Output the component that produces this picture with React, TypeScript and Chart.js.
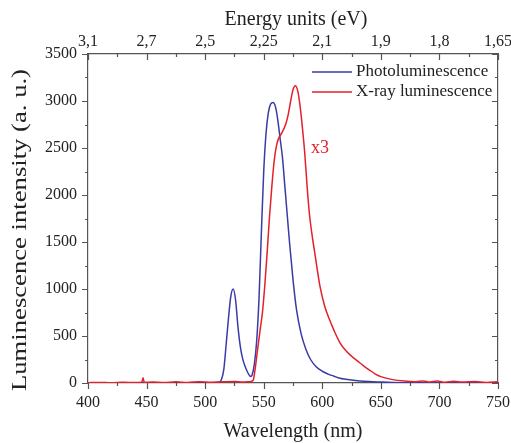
import React, { useEffect, useRef } from "react";
import { Chart, registerables } from "chart.js";

Chart.register(...registerables);

// Photoluminescence (blue) – wavelength (nm) and intensity
const plWavelength = [400, 450, 490, 505, 512, 514, 516, 518, 520, 522, 524, 526, 528, 530, 532, 534, 536, 538, 539, 540, 542, 544, 546, 548, 550, 552, 554, 556, 558, 560, 562, 564, 566, 568, 570, 572, 575, 578, 582, 586, 590, 595, 600, 605, 610, 615, 620, 630, 640, 650, 660, 680, 700, 750];
const plIntensity = [0, 0, 1, 3, 8, 40, 150, 420, 700, 930, 1000, 880, 600, 390, 260, 180, 120, 78, 70, 82, 200, 450, 900, 1600, 2250, 2660, 2880, 2970, 2985, 2940, 2800, 2600, 2400, 2100, 1800, 1500, 1100, 780, 520, 360, 250, 170, 125, 95, 72, 50, 40, 25, 15, 10, 6, 3, 1, 0];

// X-ray luminescence ×3 (red)
const xlWavelength = [400, 410, 420, 430, 440, 446, 447, 448, 455, 465, 475, 485, 495, 505, 515, 525, 532, 538, 541, 543, 545, 547, 549, 551, 553, 555, 557, 559, 561, 563, 565, 567, 569, 571, 573, 575, 577, 579, 581, 583, 585, 587, 589, 591, 594, 598, 602, 606, 610, 615, 620, 625, 630, 635, 640, 645, 650, 660, 670, 680, 686, 692, 698, 705, 712, 720, 730, 740, 750];
const xlIntensity = [3, 6, 2, 8, 4, 10, 55, 8, 10, 4, 12, 6, 14, 8, 12, 16, 10, 14, 30, 180, 380, 570, 760, 1050, 1400, 1780, 2100, 2370, 2530, 2610, 2650, 2700, 2760, 2860, 3000, 3120, 3163, 3110, 2950, 2720, 2450, 2100, 1800, 1600, 1350, 1030, 820, 680, 560, 430, 345, 285, 235, 185, 140, 98, 68, 36, 20, 14, 22, 10, 20, 8, 18, 10, 16, 6, 12];

// Axis ticks
const wavelengthTicks = [400, 450, 500, 550, 600, 650, 700, 750];
const energyTickLabels = ["3,1", "2,7", "2,5", "2,25", "2,1", "1,9", "1,8", "1,65"];
const intensityTicks = [0, 500, 1000, 1500, 2000, 2500, 3000, 3500];

const seriesNames = ["Photoluminescence", "X-ray luminescence"];
const seriesColors = ["#3b3ba6", "#e3202b"];

const FONT = "'Liberation Serif', 'DejaVu Serif', serif";
const TEXT = "#222";
const AXIS = "#555";

const decorPlugin = {
  id: "decor",
  afterDraw(chart: any) {
    const ctx = chart.ctx;
    const ca = chart.chartArea;
    const xs = chart.scales.x;
    const ys = chart.scales.y;
    ctx.save();
    ctx.strokeStyle = AXIS;
    ctx.lineWidth = 1.2;
    // x ticks (bottom outward, top inward)
    for (let v = 400; v <= 750; v += 25) {
      const px = Math.round(xs.getPixelForValue(v)) + 0.5;
      const len = v % 50 === 0 ? 6 : 3;
      ctx.beginPath();
      ctx.moveTo(px, ca.bottom);
      ctx.lineTo(px, ca.bottom + len);
      ctx.moveTo(px, ca.top);
      ctx.lineTo(px, ca.top + len);
      ctx.stroke();
    }
    // y ticks (left outward, right inward)
    for (let v = 0; v <= 3500; v += 250) {
      const py = Math.round(ys.getPixelForValue(v)) + 0.5;
      const len = v % 500 === 0 ? 6 : 3;
      ctx.beginPath();
      ctx.moveTo(ca.left - len, py);
      ctx.lineTo(ca.left, py);
      ctx.moveTo(ca.right - len, py);
      ctx.lineTo(ca.right, py);
      ctx.stroke();
    }
    // titles
    ctx.fillStyle = TEXT;
    ctx.textAlign = "center";
    ctx.textBaseline = "middle";
    ctx.font = `20px ${FONT}`;
    const cx = (ca.left + ca.right) / 2;
    ctx.fillText("Wavelength (nm)", cx, 432);
    ctx.fillText("Energy units (eV)", cx + 3, 20);
    // y title, stretched along its length
    const yTitle = "Luminescence intensity (a. u.)";
    const w = ctx.measureText(yTitle).width;
    ctx.save();
    ctx.translate(21, 230);
    ctx.rotate(-Math.PI / 2);
    ctx.scale(322 / w, 1);
    ctx.fillText(yTitle, 0, 0);
    ctx.restore();
    // legend
    ctx.font = `17px ${FONT}`;
    ctx.textAlign = "left";
    const rows = [72, 92];
    for (let i = 0; i < 2; i++) {
      ctx.strokeStyle = seriesColors[i];
      ctx.lineWidth = 1.5;
      ctx.beginPath();
      ctx.moveTo(312, rows[i]);
      ctx.lineTo(352, rows[i]);
      ctx.stroke();
      ctx.fillStyle = TEXT;
      ctx.fillText(seriesNames[i], 356, rows[i]);
    }
    // x3 annotation
    ctx.fillStyle = seriesColors[1];
    ctx.font = `18px ${FONT}`;
    ctx.textAlign = "center";
    ctx.fillText("x3", 320, 148);
    ctx.restore();
  },
};

const noPad = (h: number) => (s: any) => {
  s.height = h;
  s.paddingLeft = 0;
  s.paddingRight = 0;
};

export default function App() {
  const ref = useRef<HTMLCanvasElement | null>(null);
  useEffect(() => {
    if (!ref.current) return;
    const tickFont = { family: FONT, size: 16 };
    const chart = new Chart(ref.current, {
      type: "line",
      data: {
        datasets: [
          {
            label: seriesNames[0],
            data: plWavelength.map((x, i) => ({ x, y: plIntensity[i] })),
            borderColor: seriesColors[0],
            borderWidth: 1.5,
            pointRadius: 0,
            cubicInterpolationMode: "monotone",
            order: 1,
          },
          {
            label: seriesNames[1],
            data: xlWavelength.map((x, i) => ({ x, y: xlIntensity[i] })),
            borderColor: seriesColors[1],
            borderWidth: 1.5,
            pointRadius: 0,
            cubicInterpolationMode: "monotone",
            order: 0,
          },
        ],
      },
      options: {
        animation: false,
        responsive: true,
        maintainAspectRatio: false,
        layout: { padding: 0 },
        plugins: { legend: { display: false }, tooltip: { enabled: false } },
        scales: {
          x: {
            type: "linear",
            position: "bottom",
            min: 400,
            max: 750,
            afterBuildTicks: (s: any) => {
              s.ticks = wavelengthTicks.map((v) => ({ value: v }));
            },
            afterFit: noPad(60),
            ticks: { font: tickFont, color: TEXT, padding: 10, maxRotation: 0, autoSkip: false },
            grid: { display: true, drawOnChartArea: false, drawTicks: false },
            border: { display: true, color: AXIS, width: 1.2 },
          },
          x2: {
            type: "linear",
            position: "top",
            display: true,
            min: 400,
            max: 750,
            afterBuildTicks: (s: any) => {
              s.ticks = wavelengthTicks.map((v) => ({ value: v }));
            },
            afterFit: noPad(54),
            ticks: {
              font: tickFont,
              color: TEXT,
              padding: 3,
              maxRotation: 0,
              autoSkip: false,
              callback: (v: any) => {
                const i = wavelengthTicks.indexOf(Number(v));
                return i >= 0 ? energyTickLabels[i] : "";
              },
            },
            grid: { display: true, drawOnChartArea: false, drawTicks: false },
            border: { display: true, color: AXIS, width: 1.2 },
          },
          y: {
            type: "linear",
            position: "left",
            min: 0,
            max: 3500,
            afterBuildTicks: (s: any) => {
              s.ticks = intensityTicks.map((v) => ({ value: v }));
            },
            afterFit: (s: any) => {
              s.width = 88;
              s.paddingTop = 0;
              s.paddingBottom = 0;
            },
            ticks: { font: tickFont, color: TEXT, padding: 11, callback: (v: any) => String(v) },
            grid: { display: true, drawOnChartArea: false, drawTicks: false },
            border: { display: true, color: AXIS, width: 1.2 },
          },
          y2: {
            type: "linear",
            position: "right",
            display: true,
            min: 0,
            max: 3500,
            afterFit: (s: any) => {
              s.width = 13;
              s.paddingTop = 0;
              s.paddingBottom = 0;
            },
            ticks: { display: false },
            grid: { display: true, drawOnChartArea: false, drawTicks: false },
            border: { display: true, color: AXIS, width: 1.2 },
          },
        },
      },
      plugins: [decorPlugin],
    } as any);
    return () => chart.destroy();
  }, []);
  return (
    <div style={{ position: "fixed", left: 0, top: 0, width: 511, height: 443, background: "#fff" }}>
      <canvas ref={ref} />
    </div>
  );
}
